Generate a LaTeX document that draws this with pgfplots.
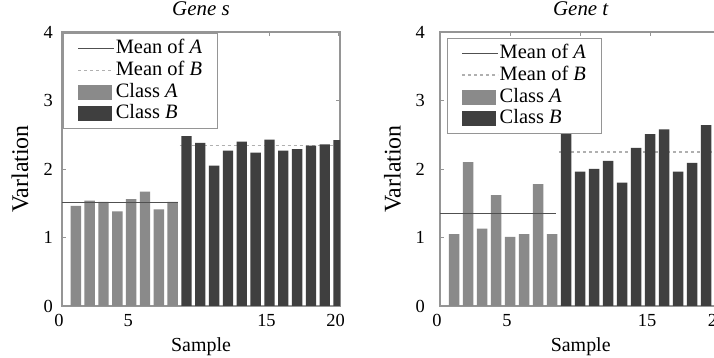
\documentclass[border=0pt]{standalone}
\usepackage{fontspec}
\setmainfont{Liberation Serif}
\usepackage{pgfplots}
\pgfplotsset{compat=1.18}
\definecolor{clsA}{HTML}{8A8A8A}
\definecolor{clsB}{HTML}{3F3F3F}
\definecolor{meanA}{HTML}{505050}
\definecolor{meanB}{HTML}{B0B0B0}
\definecolor{axgray}{HTML}{959595}

\pgfplotsset{
  genestyle/.style={
    scale only axis, height=274bp,
    xmin=0, xmax=20.1, ymin=0, ymax=4,
    xtick={0,5,10,15,20}, xticklabels={0,5,,15,20},
    ytick={0,1,2,3,4},
    tick align=inside, major tick length=4bp,
    axis line style={axgray, line width=1.4bp},
    tick style={axgray, line width=0.8bp},
    /pgf/number format/assume math mode=true,
    tick label style={font=\fontsize{18.5}{20}\selectfont},
    xticklabel style={anchor=base, yshift=-20.7bp, xshift=-3bp, inner sep=0pt},
    yticklabel style={anchor=east, inner sep=0pt},
    xlabel={Sample}, ylabel={Varlation},
    xlabel style={font=\fontsize{20}{22}\selectfont, at={(axis description cs:0.5,-0.1668)}, anchor=base},
    ylabel style={font=\fontsize{24}{26}\selectfont, anchor=center},
    title style={font=\itshape\fontsize{21}{23}\selectfont, at={(axis description cs:0.5,1.04)}, anchor=base},
    legend cell align=left,
    legend style={anchor=north west, draw=axgray, line width=0.8bp, fill=white,
      inner xsep=14bp, inner ysep=4bp, font=\fontsize{20.5}{22}\selectfont, row sep=0pt,
      nodes={inner xsep=1bp, inner ysep=2bp, text height=14bp, text depth=3.8bp}},
  },
  legA/.style={legend image code/.code={\draw[meanA, line width=1.3bp] (0bp,0bp) -- (36bp,0bp);}},
  legB/.style={legend image code/.code={\draw[meanB, line width=1.3bp, dash pattern=on 3bp off 3bp] (0bp,0bp) -- (36bp,0bp);}},
  legCA/.style={legend image code/.code={\fill[clsA] (0bp,-7bp) rectangle (33bp,7bp);}},
  legCB/.style={legend image code/.code={\fill[clsB] (0bp,-7bp) rectangle (33bp,7bp);}},
}

\begin{document}
\begin{tikzpicture}
\path[use as bounding box, clip] (0,0) rectangle (714bp,358bp);
\fill[white] (0,0) rectangle (714bp,358bp);

% ---------- Gene s ----------
\begin{axis}[genestyle, at={(62bp,52bp)}, anchor=south west, width=278bp,
  title={Gene s},
  yticklabel style={xshift=-9bp},
  ylabel style={at={(axis description cs:-0.151,0.5)}},
  legend style={at={(rel axis cs:0.004,0.996)}}]
\addlegendimage{legA}
\addlegendimage{legB}
\addlegendimage{legCA}
\addlegendimage{legCB}
\legend{Mean of \textit{A}, Mean of \textit{B}, Class \textit{A}, Class \textit{B}}
\addplot[meanB, line width=1.3bp, dash pattern=on 3bp off 3bp, forget plot] coordinates {(8.5,2.34) (20.1,2.34)};
\addplot[ybar, bar width=0.75, fill=clsA, draw=none, forget plot] coordinates {
(1,1.46) (2,1.54) (3,1.52) (4,1.38) (5,1.56) (6,1.67) (7,1.41) (8,1.52)};
\addplot[ybar, bar width=0.75, fill=clsB, draw=none, forget plot] coordinates {
(9,2.48) (10,2.38) (11,2.05) (12,2.27) (13,2.40) (14,2.24) (15,2.43) (16,2.27) (17,2.29) (18,2.34) (19,2.36) (20,2.42)};
\addplot[meanA, line width=1.3bp, forget plot] coordinates {(0,1.51) (8.4,1.51)};
\end{axis}

% ---------- Gene t ----------
\begin{axis}[genestyle, at={(440bp,52bp)}, anchor=south west, width=281.4bp,
  title={Gene t},
  yticklabel style={xshift=-15bp},
  ylabel style={at={(axis description cs:-0.169,0.5)}},
  legend style={at={(rel axis cs:0.025,0.978)}}]
\addlegendimage{legA}
\addlegendimage{legB}
\addlegendimage{legCA}
\addlegendimage{legCB}
\legend{Mean of \textit{A}, Mean of \textit{B}, Class \textit{A}, Class \textit{B}}
\addplot[meanB, line width=1.3bp, dash pattern=on 3bp off 3bp, forget plot] coordinates {(8.5,2.25) (20.1,2.25)};
\addplot[ybar, bar width=0.75, fill=clsA, draw=none, forget plot] coordinates {
(1,1.05) (2,2.10) (3,1.13) (4,1.62) (5,1.01) (6,1.05) (7,1.78) (8,1.05)};
\addplot[ybar, bar width=0.75, fill=clsB, draw=none, forget plot] coordinates {
(9,2.90) (10,1.96) (11,2.00) (12,2.12) (13,1.80) (14,2.31) (15,2.51) (16,2.58) (17,1.96) (18,2.09) (19,2.64) (20,2.13)};
\addplot[meanA, line width=1.3bp, forget plot] coordinates {(0,1.35) (8.3,1.35)};
\end{axis}
\end{tikzpicture}
\end{document}
